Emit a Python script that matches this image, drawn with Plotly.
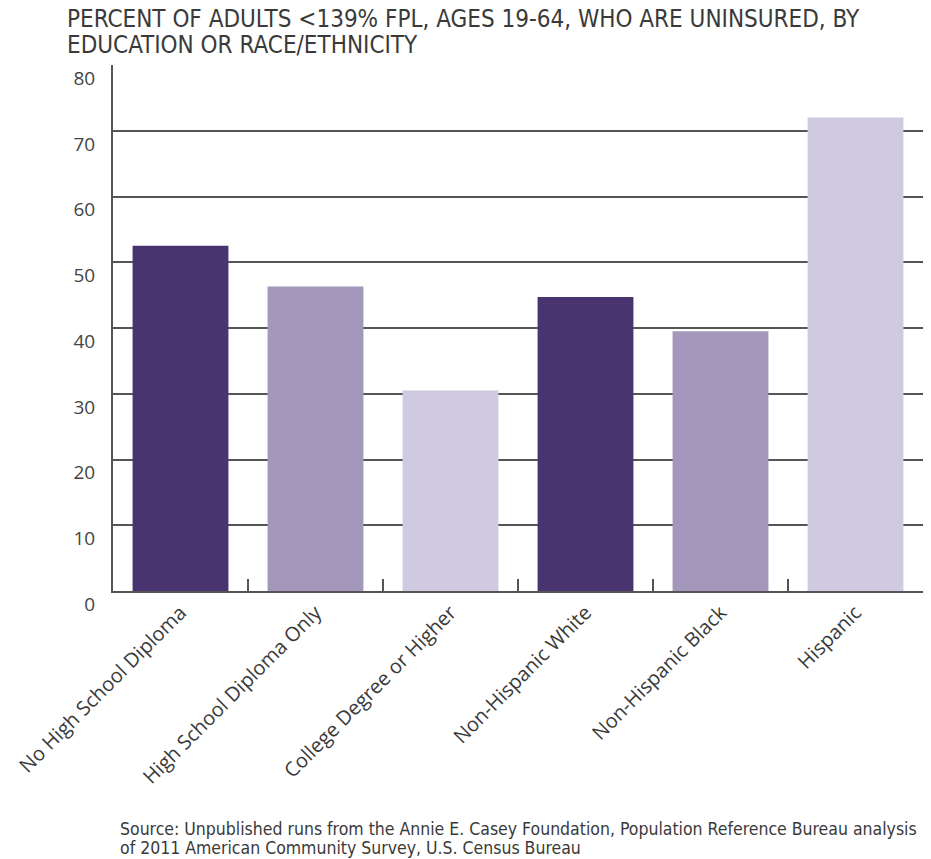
import plotly.graph_objects as go

categories = ["No High School Diploma", "High School Diploma Only", "College Degree or Higher",
              "Non-Hispanic White", "Non-Hispanic Black", "Hispanic"]
values = [52.5, 46.3, 30.5, 44.7, 39.5, 72.0]
colors = ["#4a3470", "#a398bb", "#cfcadf", "#4a3470", "#a398bb", "#cfcadf"]
y_ticks = [0, 10, 20, 30, 40, 50, 60, 70, 80]

title_lines = ["PERCENT OF ADULTS &lt;139% FPL, AGES 19-64, WHO ARE UNINSURED, BY",
               "EDUCATION OR RACE/ETHNICITY"]
source_lines = ["Source: Unpublished runs from the Annie E. Casey Foundation, Population Reference Bureau analysis",
                "of 2011 American Community Survey, U.S. Census Bureau"]

fig = go.Figure()
fig.add_trace(go.Bar(x=categories, y=values, marker=dict(color=colors, line=dict(width=0)),
                     hoverinfo="x+y"))

W, H = 931, 859
L, R, T, B = 113, 8, 65, 268
PW = W - L - R
narrow = "DejaVu Sans Condensed, Liberation Sans Narrow, sans-serif"

annotations = []
for txt, cy in zip(title_lines, [19, 45]):
    annotations.append(dict(text=txt, xref="paper", yref="paper", x=(65 - L) / PW, y=1.0,
                            yshift=T - cy, xanchor="left", yanchor="middle", align="left",
                            showarrow=False, font=dict(family=narrow, size=24, color="#3a3a3a")))
for txt, cy in zip(source_lines, [829, 848]):
    annotations.append(dict(text=txt, xref="paper", yref="paper", x=(118 - L) / PW, y=0.0,
                            yshift=591 - cy, xanchor="left", yanchor="middle", align="left",
                            showarrow=False, font=dict(family=narrow, size=17.5, color="#3a3a3a")))

fig.update_layout(
    width=W, height=H,
    margin=dict(l=L, r=R, t=T, b=B),
    paper_bgcolor="white", plot_bgcolor="white",
    bargap=0.29,
    showlegend=False,
    font=dict(family="Open Sans, sans-serif", color="#3a3a3a"),
    xaxis=dict(
        tickangle=-45, tickson="boundaries", ticks="inside", ticklen=12, tickwidth=2,
        tickcolor="#555555", showline=True, linecolor="#555555", linewidth=2,
        tickfont=dict(size=20, family="Open Sans, sans-serif", color="#3a3a3a"),
        showgrid=False, zeroline=False,
    ),
    yaxis=dict(
        range=[0, 80], tickvals=y_ticks, ticks="", showline=True, linecolor="#555555", linewidth=2,
        showgrid=True, gridcolor="#555555", gridwidth=2, zeroline=False,
        ticklabelposition="outside bottom",
        tickfont=dict(size=19, family="Open Sans, sans-serif", color="#444444"),
        ticklabelstandoff=12,
    ),
    annotations=annotations,
)

fig.write_html("out.html")
